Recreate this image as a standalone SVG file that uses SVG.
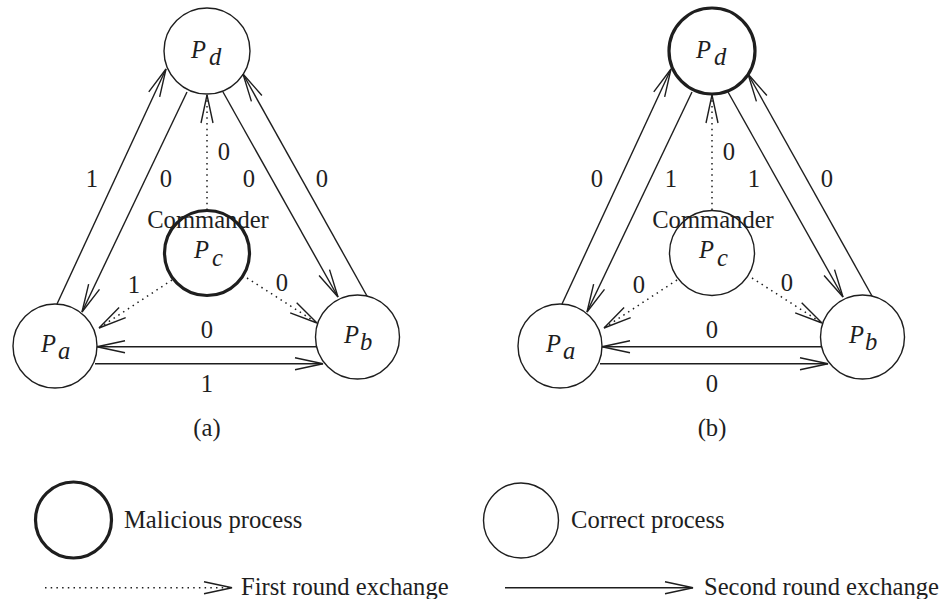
<svg xmlns="http://www.w3.org/2000/svg" width="951" height="599" viewBox="0 0 951 599">
<style>
  .bg { fill: #ffffff; }
  .node { fill: none; stroke: #1e1e1e; stroke-width: 1.4; }
  .bad { fill: none; stroke: #1e1e1e; stroke-width: 3.2; }
  .msg { fill: none; stroke: #1e1e1e; stroke-width: 1.4; marker-end: url(#ah); }
  .dot { fill: none; stroke: #1e1e1e; stroke-width: 1.5; stroke-dasharray: 1.5 4.2; marker-end: url(#ah); }
  .lbl { text-anchor: middle; }
  .pn { font-style: italic; }
</style>
<defs>
  <marker id="ah" markerUnits="userSpaceOnUse" orient="auto" refX="0" refY="0" markerWidth="40" markerHeight="20" viewBox="-35 -10 40 20" overflow="visible">
    <path d="M-28,-6 L0,0 L-28,6" fill="none" stroke="#1e1e1e" stroke-width="1.4" stroke-dasharray="none"/>
  </marker>
</defs>
<rect class="bg" x="0" y="0" width="951" height="599"/>
<g font-family="'Liberation Serif', 'DejaVu Serif', serif" font-size="24.6" fill="#1e1e1e">

<!-- Diagram (a) -->
<g id="a-Pd"><circle class="node" cx="207" cy="51" r="43"/><text class="pn" x="191" y="58">P<tspan x="209" y="65">d</tspan></text></g>
<g id="a-Pa"><circle class="node" cx="55" cy="346" r="42"/><text class="pn" x="41" y="352">P<tspan x="58" y="359">a</tspan></text></g>
<g id="a-Pb"><circle class="node" cx="357.5" cy="337" r="42"/><text class="pn" x="344" y="343">P<tspan x="360" y="350">b</tspan></text></g>
<g id="a-Pc"><circle class="bad" cx="207" cy="253" r="42.5"/><text class="pn" x="194" y="258">P<tspan x="212" y="266">c</tspan></text><text class="lbl" x="208" y="228">Commander</text></g>

<g id="a-connectors">
  <line class="msg" x1="57" y1="304" x2="166" y2="69"/>
  <line class="msg" x1="187" y1="92" x2="82" y2="312"/>
  <line class="msg" x1="223" y1="92" x2="338" y2="297"/>
  <line class="msg" x1="367" y1="296" x2="243" y2="74"/>
  <line class="msg" x1="317" y1="346.7" x2="97" y2="346.7"/>
  <line class="msg" x1="95" y1="363.7" x2="323" y2="363.7"/>
  <line class="dot" x1="207" y1="210" x2="207" y2="95"/>
  <line class="dot" x1="172" y1="280" x2="99" y2="328"/>
  <line class="dot" x1="247" y1="278" x2="317" y2="323"/>
  <text class="lbl" x="92" y="187">1</text>
  <text class="lbl" x="166" y="187">0</text>
  <text class="lbl" x="224" y="160">0</text>
  <text class="lbl" x="249" y="187">0</text>
  <text class="lbl" x="322" y="187">0</text>
  <text class="lbl" x="134" y="293">1</text>
  <text class="lbl" x="282" y="291">0</text>
  <text class="lbl" x="207" y="338">0</text>
  <text class="lbl" x="207" y="392">1</text>
</g>
<text class="lbl" x="207" y="436">(a)</text>

<!-- Diagram (b) -->
<g id="b-Pd"><circle class="bad" cx="712" cy="51" r="43"/><text class="pn" x="696" y="58">P<tspan x="714" y="65">d</tspan></text></g>
<g id="b-Pa"><circle class="node" cx="560" cy="346" r="42"/><text class="pn" x="546" y="352">P<tspan x="563" y="359">a</tspan></text></g>
<g id="b-Pb"><circle class="node" cx="862.5" cy="337" r="42"/><text class="pn" x="849" y="343">P<tspan x="865" y="350">b</tspan></text></g>
<g id="b-Pc"><circle class="node" cx="712" cy="253" r="42.5"/><text class="pn" x="699" y="258">P<tspan x="717" y="266">c</tspan></text><text class="lbl" x="713" y="228">Commander</text></g>

<g id="b-connectors">
  <line class="msg" x1="562" y1="304" x2="671" y2="69"/>
  <line class="msg" x1="692" y1="92" x2="587" y2="312"/>
  <line class="msg" x1="728" y1="92" x2="843" y2="297"/>
  <line class="msg" x1="872" y1="296" x2="748" y2="74"/>
  <line class="msg" x1="822" y1="346.7" x2="602" y2="346.7"/>
  <line class="msg" x1="600" y1="363.7" x2="828" y2="363.7"/>
  <line class="dot" x1="712" y1="210" x2="712" y2="95"/>
  <line class="dot" x1="677" y1="280" x2="604" y2="328"/>
  <line class="dot" x1="752" y1="278" x2="822" y2="323"/>
  <text class="lbl" x="597" y="187">0</text>
  <text class="lbl" x="671" y="187">1</text>
  <text class="lbl" x="729" y="160">0</text>
  <text class="lbl" x="754" y="187">1</text>
  <text class="lbl" x="827" y="187">0</text>
  <text class="lbl" x="639" y="293">0</text>
  <text class="lbl" x="787" y="291">0</text>
  <text class="lbl" x="712" y="338">0</text>
  <text class="lbl" x="712" y="392">0</text>
</g>
<text class="lbl" x="712" y="436">(b)</text>

<!-- Legend -->
<g id="legend-malicious"><circle class="bad" cx="73.5" cy="520" r="38"/><text x="124" y="528">Malicious process</text></g>
<g id="legend-correct"><circle class="node" cx="521" cy="520.5" r="37.5"/><text x="571" y="528">Correct process</text></g>
<g id="legend-connectors">
  <line class="dot" x1="45" y1="587.7" x2="232" y2="587.7"/>
  <line class="msg" x1="505" y1="587.7" x2="693" y2="587.7"/>
  <text x="241" y="595">First round exchange</text>
  <text x="704" y="595">Second round exchange</text>
</g>
</g>
</svg>
